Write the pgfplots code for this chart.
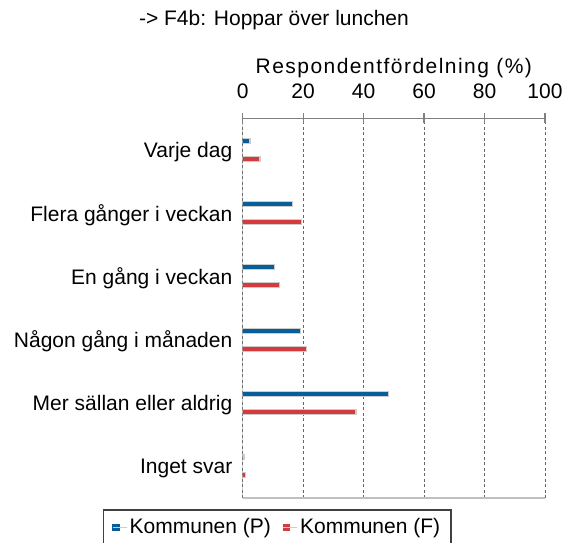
\documentclass[border=0pt]{standalone}
\usepackage{fontspec}
\setmainfont{Liberation Sans}
\usepackage{pgfplots}
\pgfplotsset{compat=1.18}

\definecolor{kommP}{HTML}{075E99}
\definecolor{kommF}{HTML}{D63B3B}
\newcommand{\chartfont}{\fontsize{21}{25}\selectfont}

\begin{document}
\begin{tikzpicture}[font=\chartfont]
\begin{axis}[
  scale only axis,
  width=302.3pt, height=380pt,
  at={(0,0)}, anchor=south west,
  xbar, bar width=5pt,
  xmin=0, xmax=100, ymin=-0.5, ymax=5.5,
  xtick={0,20,...,100},
  xtick pos=upper, xticklabel pos=upper,
  ytick={0,...,5},
  yticklabels={Inget svar,Mer sällan eller aldrig,Någon gång i månaden,En gång i veckan,Flera gånger i veckan,Varje dag},
  axis line style={draw=none},
  tick align=center, major tick length=10pt,
  x tick style={black!50, line width=1.2pt},
  y tick style={draw=none},
  xmajorgrids,
  grid style={black!60, line width=1pt, dash pattern=on 3pt off 2.5pt},
  /pgf/number format/assume math mode=true,
  tick label style={font=\chartfont},
  xticklabel style={anchor=base, yshift=14.7pt},
  yticklabel style={anchor=east, inner sep=0pt, xshift=-5.2pt, yshift=-2pt},
  xlabel={Respondentfördelning (\%)},
  xlabel style={at={(axis description cs:0.5,1)}, anchor=base, yshift=44.7pt,
    font=\chartfont\addfontfeatures{LetterSpace=7}},
  title={-> F4b: Hoppar över lunchen},
  title style={at={(axis description cs:0.1035,1)}, anchor=base, yshift=87pt, font=\chartfont},
  legend columns=2,
  legend cell align=left,
  legend style={at={(axis description cs:-0.463,-0.029)}, anchor=north west,
    draw=black!75, line width=1.5pt, font=\chartfont,
    inner xsep=9pt, inner ysep=7pt,
    /tikz/every even column/.append style={column sep=10pt}},
]
\addplot[fill=kommP, draw=black!20, line width=1.2pt, bar shift=9pt,
  legend image code/.code={\fill[kommP] (0pt,-3pt) rectangle (6pt,3pt); \path (0pt,0pt) -- (14pt,0pt);}]
  coordinates {(2.4,5) (16.4,4) (10.4,3) (19.0,2) (48.2,1) (0.4,0)};
\addlegendentry{Kommunen (P)}
\addplot[fill=kommF, draw=black!20, line width=1.2pt, bar shift=-9pt,
  legend image code/.code={\fill[kommF] (0pt,-3pt) rectangle (6pt,3pt); \path (0pt,0pt) -- (14pt,0pt);}]
  coordinates {(5.7,5) (19.5,4) (12.3,3) (21.0,2) (37.5,1) (0.9,0)};
\addlegendentry{Kommunen (F)}
\draw[black!50, line width=1.5pt] (rel axis cs:0,0) -- (rel axis cs:0,1) -- (rel axis cs:1,1);
\draw[black!25, line width=1.2pt] (rel axis cs:0,0) -- (rel axis cs:1,0);
\end{axis}
\pgfresetboundingbox
\path[use as bounding box] (-242.7pt,-44pt) rectangle (319.3pt,498pt);
\end{tikzpicture}
\end{document}
